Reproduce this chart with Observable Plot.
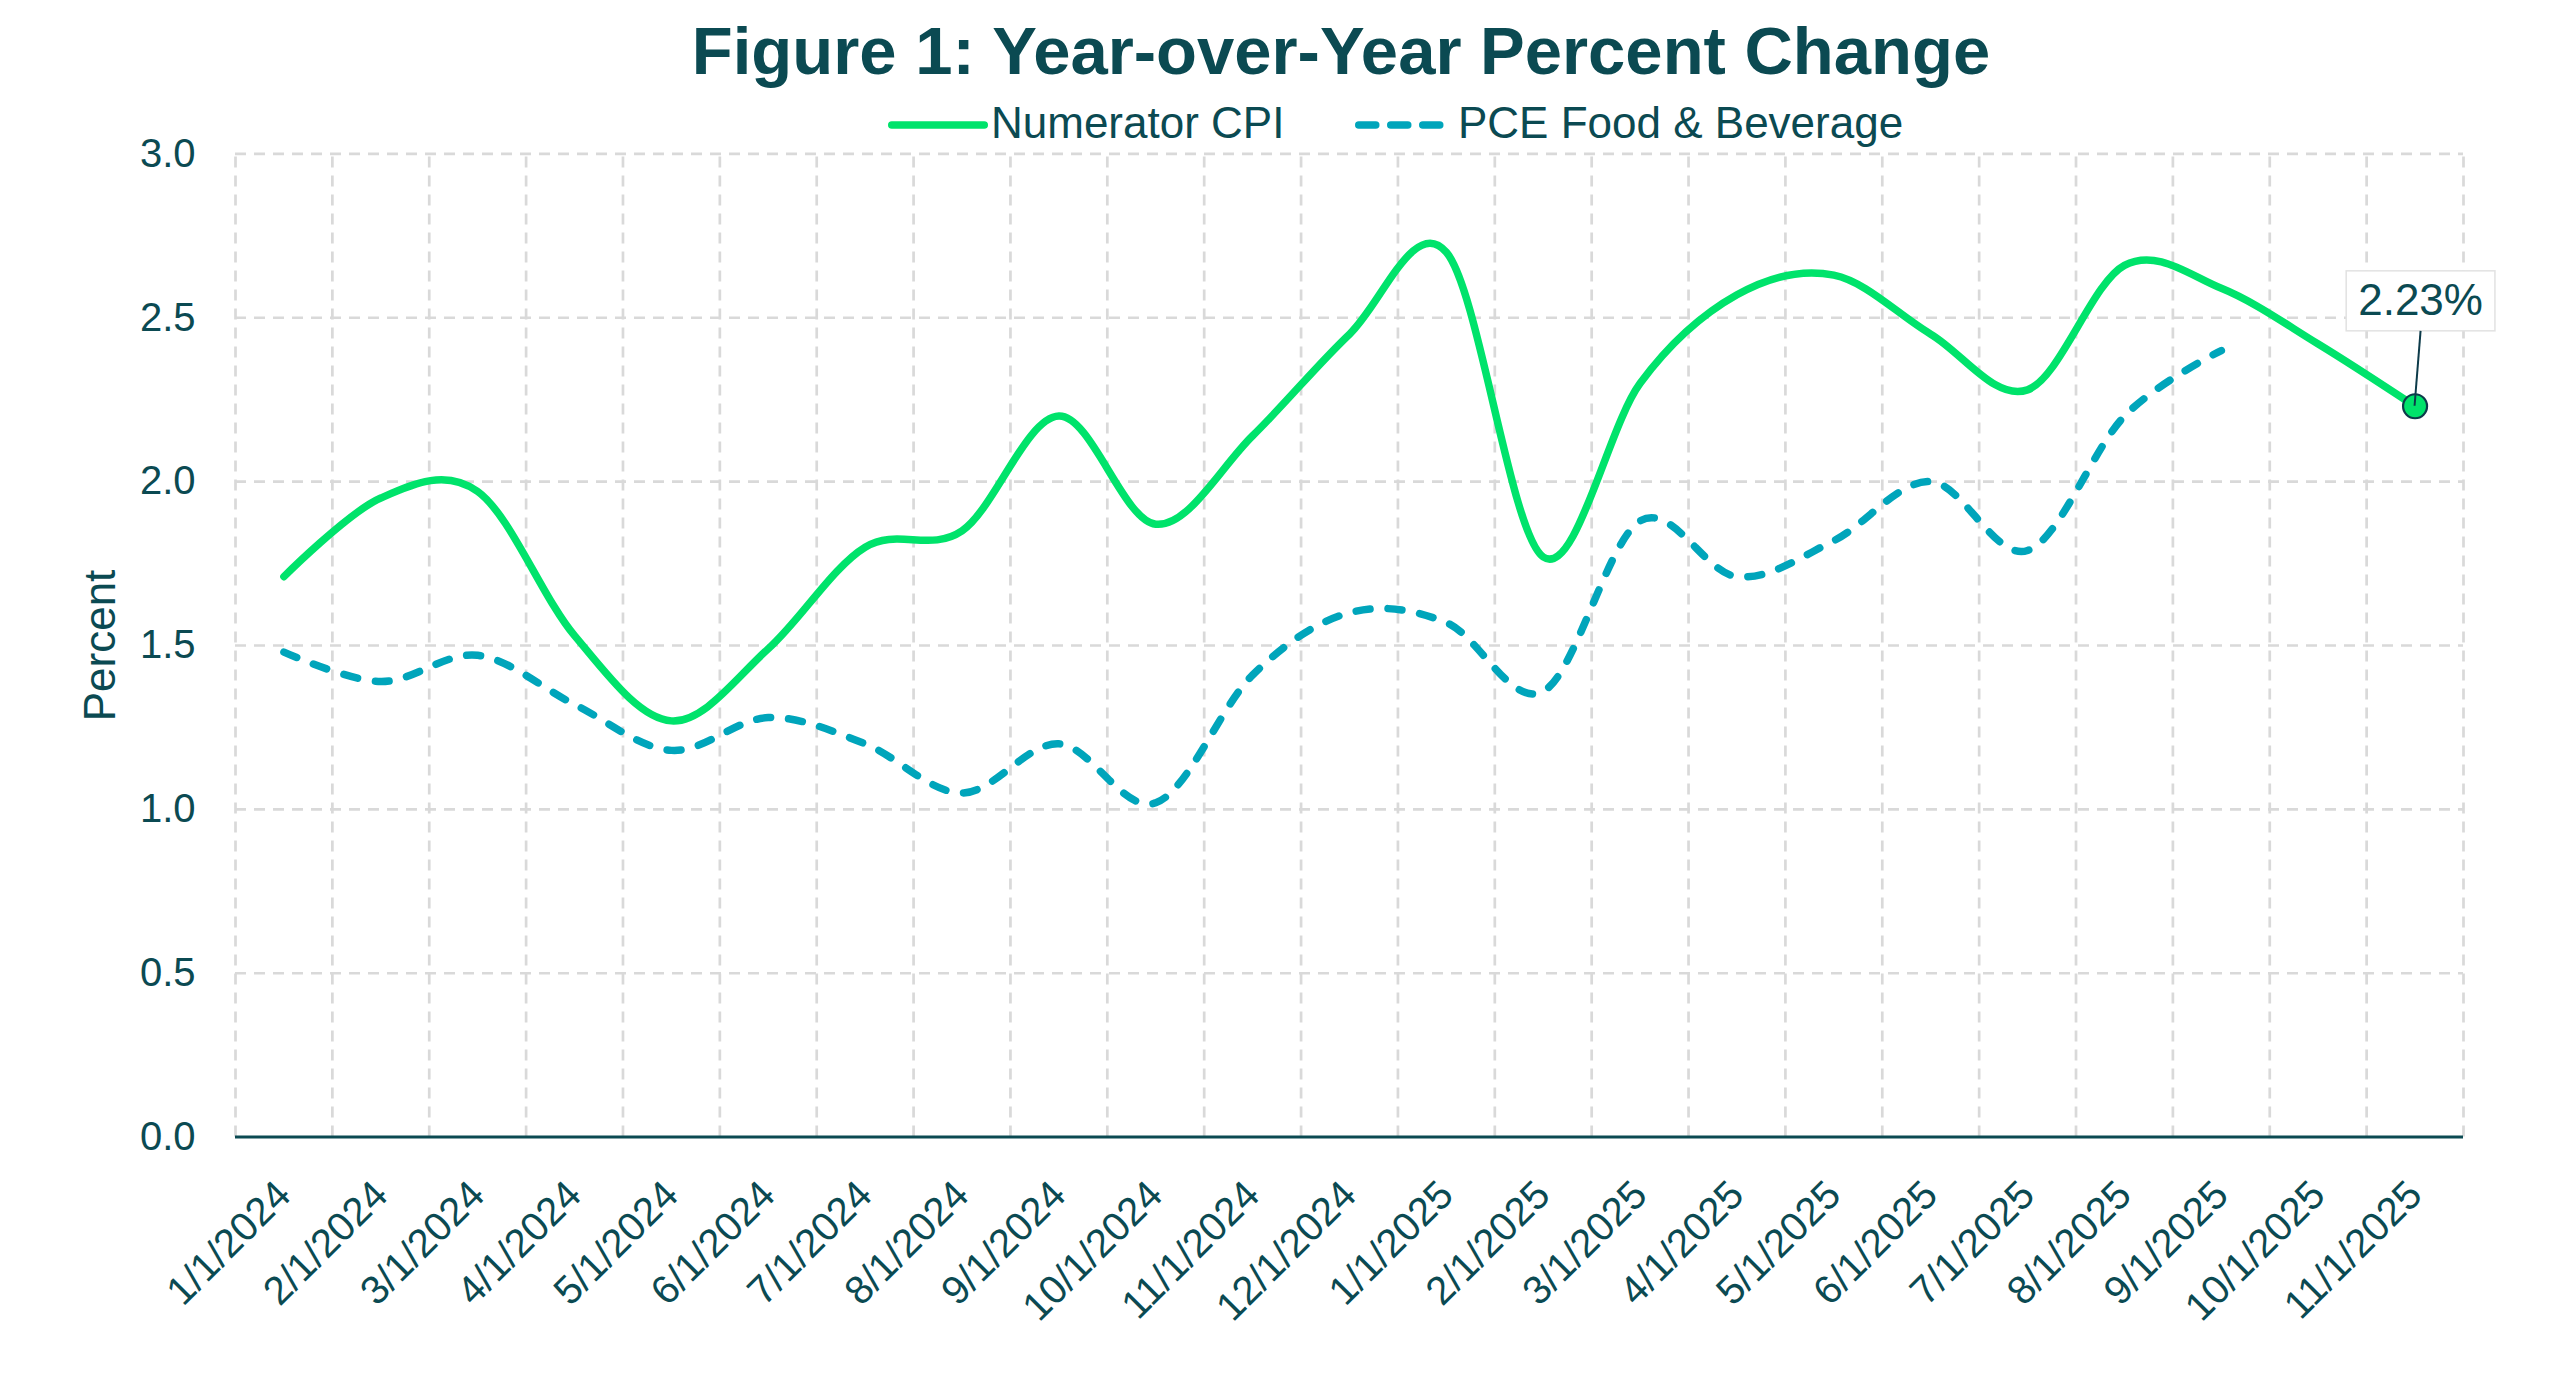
<!DOCTYPE html>
<html>
<head>
<meta charset="utf-8">
<script src="https://cdn.jsdelivr.net/npm/d3@7"></script>
<script src="https://cdn.jsdelivr.net/npm/@observablehq/plot@0.6"></script>
<style>
  html, body { margin: 0; padding: 0; background: #ffffff; }
  body { width: 2560px; height: 1397px; overflow: hidden; font-family: "Liberation Sans", Arial, sans-serif; color: #0b4a52; }
  #wrap { position: relative; width: 2560px; height: 1397px; }
  #title { position: absolute; left: 1341px; top: 17px; transform: translateX(-50%); white-space: nowrap;
           font-size: 67px; line-height: 67px; font-weight: bold; color: #0b4a52; }
  .lg { position: absolute; white-space: nowrap; font-size: 44px; line-height: 44px; color: #0b4a52; top: 101px; z-index: 2; }
  .sw { position: absolute; top: 115px; height: 20px; z-index: 2; }
  #chart { position: absolute; left: 0; top: 120px; }
</style>
</head>
<body>
<div id="wrap">
  <div id="title">Figure 1: Year-over-Year Percent Change</div>
  <svg class="sw" style="left:888px" width="100" height="20"><line x1="3.75" y1="10" x2="96.25" y2="10" stroke="#00e36b" stroke-width="7.5" stroke-linecap="round"/></svg>
  <div class="lg" id="lg1" style="left:991px">Numerator CPI</div>
  <svg class="sw" style="left:1355px" width="90" height="20"><line x1="3.75" y1="10" x2="86.25" y2="10" stroke="#00a5bb" stroke-width="7.5" stroke-linecap="round" stroke-dasharray="17,15"/></svg>
  <div class="lg" id="lg2" style="left:1458px">PCE Food &amp; Beverage</div>
  <div id="chart"></div>
</div>
<script>
// ---- data ----
const months = [
  "1/1/2024","2/1/2024","3/1/2024","4/1/2024","5/1/2024","6/1/2024",
  "7/1/2024","8/1/2024","9/1/2024","10/1/2024","11/1/2024","12/1/2024",
  "1/1/2025","2/1/2025","3/1/2025","4/1/2025","5/1/2025","6/1/2025",
  "7/1/2025","8/1/2025","9/1/2025","10/1/2025","11/1/2025"
];
const numeratorCPI = [
  1.71, 1.95, 1.97, 1.53, 1.27, 1.49, 1.80, 1.85, 2.20, 1.87, 2.14, 2.45,
  2.70, 1.77, 2.30, 2.57, 2.63, 2.45, 2.28, 2.66, 2.59, 2.42, 2.23
];
const pceFoodBev = [
  1.48, 1.39, 1.47, 1.32, 1.18, 1.28, 1.20, 1.05, 1.20, 1.02, 1.41, 1.60,
  1.57, 1.36, 1.88, 1.71, 1.82, 2.00, 1.79, 2.20, 2.40
];
const yTicks = [0, 0.5, 1.0, 1.5, 2.0, 2.5, 3.0];
const yLabel = "Percent";

// ---- styles ----
const GREEN = "#00e36b", BLUE = "#00a5bb", INK = "#0b4a52", GRID = "#d9d9d9";

const cpiData = numeratorCPI.map((v, i) => ({i, month: months[i], v}));
const pceData = pceFoodBev.map((v, i) => ({i, month: months[i], v}));
const lastPoint = cpiData[cpiData.length - 1];
const lastLabel = lastPoint.v.toFixed(2) + "%";
const boundaries = d3.range(months.length + 1).map(i => i - 0.5);

const plot = Plot.plot({
  width: 2560,
  height: 1277,
  marginTop: 33.4,
  marginBottom: 260.4,
  marginLeft: 235,
  marginRight: 97,
  style: {fontFamily: "'Liberation Sans', Arial, sans-serif", fontSize: "40px", color: INK, background: "transparent", overflow: "visible"},
  x: {type: "linear", domain: [-0.5, months.length - 0.5]},
  y: {domain: [0, 3]},
  marks: [
    Plot.ruleY(yTicks.filter(d => d > 0), {stroke: GRID, strokeWidth: 2.7, strokeDasharray: "11,8"}),
    Plot.ruleX(boundaries, {y1: 0, y2: 3, stroke: GRID, strokeWidth: 2.7, strokeDasharray: "11,8"}),
    Plot.ruleY([0], {stroke: INK, strokeWidth: 3}),
    Plot.axisY(yTicks, {tickSize: 0, tickPadding: 40, tickFormat: d3.format(".1f"), label: null, fill: INK}),
    Plot.axisX(d3.range(months.length), {tickSize: 0, tickPadding: 51, tickRotate: -45, tickFormat: i => months[i], label: null, fill: INK}),
    Plot.text([yLabel], {frameAnchor: "left", textAnchor: "middle", rotate: -90, dx: -135, fontSize: 44, fill: INK}),
    Plot.line(pceData, {x: "i", y: "v", stroke: BLUE, strokeWidth: 7.5, curve: "cardinal", strokeLinecap: "round", strokeLinejoin: "round", strokeDasharray: "14,18"}),
    Plot.line(cpiData, {x: "i", y: "v", stroke: GREEN, strokeWidth: 7.5, curve: "cardinal", strokeLinecap: "round", strokeLinejoin: "round"}),
    Plot.dot([lastPoint], {x: "i", y: "v", r: 12, fill: GREEN, stroke: "#0d3b4a", strokeWidth: 2.2}),
    Plot.text([lastPoint], {x: "i", y: "v", text: () => lastLabel, dx: 5.5, dy: -105, fontSize: 44, fill: INK})
  ]
});
document.getElementById("chart").appendChild(plot);

// annotation callout box and leader line
(function () {
  const ns = "http://www.w3.org/2000/svg";
  const t = Array.from(plot.querySelectorAll("text")).find(n => n.textContent === lastLabel);
  if (!t) return;
  const sr = plot.getBoundingClientRect();
  const tr = t.getBoundingClientRect();
  const cx = tr.left - sr.left + tr.width / 2;
  const cy = tr.top - sr.top + tr.height / 2;
  const w = tr.width + 24, h = 60;
  const top = cy - h / 2 + 1;
  const rect = document.createElementNS(ns, "rect");
  rect.setAttribute("x", cx - w / 2);
  rect.setAttribute("y", top);
  rect.setAttribute("width", w);
  rect.setAttribute("height", h);
  rect.setAttribute("fill", "#ffffff");
  rect.setAttribute("stroke", "#e2e2e2");
  rect.setAttribute("stroke-width", 1.5);
  // put the box just below the text's group
  let g = t;
  while (g.parentNode && g.parentNode !== plot) g = g.parentNode;
  plot.insertBefore(rect, g);
  // leader from the point to the box bottom
  const px = plot.scale("x").apply(lastPoint.i), py = plot.scale("y").apply(lastPoint.v);
  const line = document.createElementNS(ns, "line");
  line.setAttribute("x1", px);
  line.setAttribute("y1", py);
  line.setAttribute("x2", cx);
  line.setAttribute("y2", top + h);
  line.setAttribute("stroke", "#0d3b4a");
  line.setAttribute("stroke-width", 2);
  plot.appendChild(line);
})();
</script>
</body>
</html>
